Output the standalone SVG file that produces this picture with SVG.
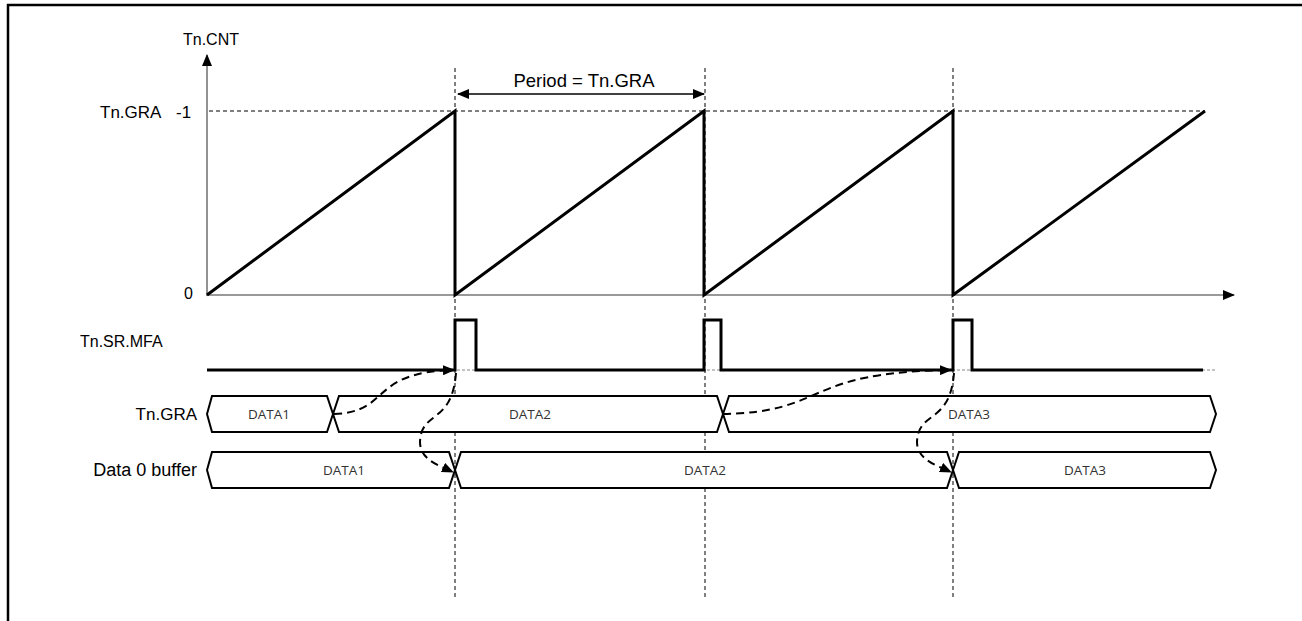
<svg xmlns="http://www.w3.org/2000/svg" width="1302" height="621" viewBox="0 0 1302 621">
<defs>
<style>
.lbl{font-family:"Liberation Sans",Arial,sans-serif;font-size:16px;fill:#000}
.dat{font-family:"Open Sans","Noto Sans",sans-serif;font-size:13.5px;fill:#333;text-anchor:middle}
.axis{stroke:#777;stroke-width:1.6;fill:none}
.saw{stroke:#000;stroke-width:3;fill:none;stroke-linejoin:miter}
.thin{stroke:#000;stroke-width:1;stroke-dasharray:4 3;fill:none}
.ref{stroke:#888;stroke-width:1;stroke-dasharray:3 2;fill:none}
.bus{stroke:#000;stroke-width:2;fill:#fff;stroke-linejoin:miter}
.curve{stroke:#000;stroke-width:2;stroke-dasharray:8 5;fill:none}
</style>
<marker id="ah" markerWidth="12" markerHeight="10" refX="11" refY="5" orient="auto" markerUnits="userSpaceOnUse">
<path d="M0,0 L12,5 L0,10 Z" fill="#000"/>
</marker>
<marker id="ahs" markerWidth="12" markerHeight="10" refX="1" refY="5" orient="auto" markerUnits="userSpaceOnUse">
<path d="M12,0 L0,5 L12,10 Z" fill="#000"/>
</marker>
</defs>
<rect width="1302" height="621" fill="#fff"/>
<path d="M8,621 V5 H1302" stroke="#000" stroke-width="2.5" fill="none"/>

<g id="grid">
<line class="thin" x1="209" y1="111" x2="1205" y2="111"/>
<line class="thin" x1="455" y1="68" x2="455" y2="600"/>
<line class="thin" x1="705" y1="68" x2="705" y2="600"/>
<line class="thin" x1="953" y1="68" x2="953" y2="600"/>
<line class="ref" x1="207" y1="370" x2="1217" y2="370"/>
</g>

<g id="axes">
<line class="axis" x1="207" y1="296" x2="207" y2="55" marker-end="url(#ah)"/>
<line class="axis" x1="207" y1="295" x2="1234" y2="295" marker-end="url(#ah)"/>
<text class="lbl" x="211" y="45" text-anchor="middle">Tn.CNT</text>
<text class="lbl" x="100" y="118" style="font-size:17px">Tn.GRA <tspan x="176">-1</tspan></text>
<text class="lbl" x="193" y="299" text-anchor="end">0</text>
</g>

<g id="period">
<line x1="458" y1="94" x2="704" y2="94" stroke="#000" stroke-width="1.5" marker-start="url(#ahs)" marker-end="url(#ah)"/>
<text class="lbl" x="584" y="87" text-anchor="middle" style="font-size:18.5px">Period = Tn.GRA</text>
</g>

<g id="counter">
<path class="saw" d="M207,295 L455,111 V295 L704,111 V295 L953,111 V295 L1205,111"/>
</g>

<g id="mfa">
<text class="lbl" x="80" y="347">Tn.SR.MFA</text>
<path class="saw" d="M207,370 H455 V320 H476 V370 H704 V320 H721 V370 H953 V320 H972 V370 H1203"/>
</g>

<g id="gra">
<text class="lbl" x="197" y="420" text-anchor="end" style="font-size:17px">Tn.GRA</text>
<polygon class="bus" points="207,414 212,396 327,396 333,414 327,432 212,432"/>
<polygon class="bus" points="333,414 339,396 717,396 723,414 717,432 339,432"/>
<polygon class="bus" points="723,414 729,396 1210,396 1216,414 1210,432 729,432"/>
<text class="dat" x="269" y="419">DATA1</text>
<text class="dat" x="530" y="419">DATA2</text>
<text class="dat" x="969" y="419">DATA3</text>
</g>

<g id="buffer">
<text class="lbl" x="197" y="476" text-anchor="end" style="font-size:18px">Data 0 buffer</text>
<polygon class="bus" points="207,470 212,452 449,452 455,470 449,488 212,488"/>
<polygon class="bus" points="455,470 461,452 947,452 953,470 947,488 461,488"/>
<polygon class="bus" points="953,470 959,452 1210,452 1216,470 1210,488 959,488"/>
<text class="dat" x="344" y="475">DATA1</text>
<text class="dat" x="705" y="475">DATA2</text>
<text class="dat" x="1085" y="475">DATA3</text>
</g>

<g id="connectors">
<path class="curve" d="M334,414 C392,412 368,372 454,370" marker-end="url(#ah)"/>
<path class="curve" d="M723,414 C830,412 800,372 951,370" marker-end="url(#ah)"/>
<path class="curve" d="M456,373 C452,425 421,410 420,442 C420,460 440,466 453,472" marker-end="url(#ah)"/>
<path class="curve" d="M954,373 C950,425 918,410 917,442 C917,460 938,466 951,472" marker-end="url(#ah)"/>
</g>
</svg>
